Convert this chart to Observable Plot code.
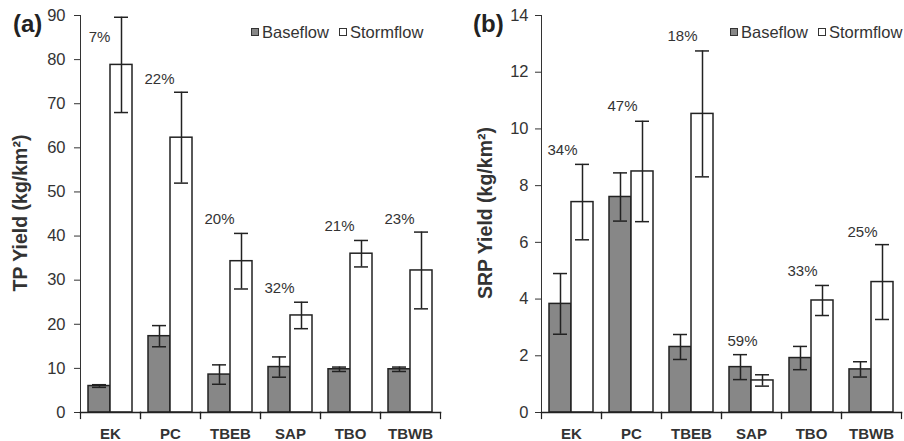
<!DOCTYPE html>
<html>
<head>
<meta charset="utf-8">
<script src="https://cdn.jsdelivr.net/npm/d3@7"></script>
<script src="https://cdn.jsdelivr.net/npm/@observablehq/plot@0.6"></script>
<style>
  body { margin: 0; background: #fff; }
  #wrap { display: flex; width: 904px; height: 441px; font-family: "Liberation Sans", Arial, sans-serif; color: #333; }
  .panel { position: relative; }
  .tag { position: absolute; font-weight: bold; font-size: 24px; line-height: 24px; color: #222; }
  .ylab { position: absolute; font-weight: bold; font-size: 19.5px; line-height: 19.5px; color: #333; white-space: nowrap;
          transform: translate(-50%, -50%) rotate(-90deg); }
  .legend { position: absolute; display: flex; align-items: center; font-size: 16.5px; line-height: 16.5px; color: #333; white-space: nowrap; }
  .sw { width: 6px; height: 6px; border: 1.5px solid #333; margin-right: 3px; }
  .sw2 { margin-left: 10px; }
  svg g[aria-label="fx-axis tick label"] { font-weight: bold; font-size: 15px; }
  svg g[aria-label="y-axis tick label"] { font-size: 16.5px; }
</style>
</head>
<body>
<div id="wrap"></div>
<script>
const sites = ["EK", "PC", "TBEB", "SAP", "TBO", "TBWB"];
const series = ["Baseflow", "Stormflow"];

// (a) TP yield, kg/km²
const tpBaseflow = [6.0, 17.3, 8.6, 10.3, 9.8, 9.8];
const tpBaseflowErr = [0.3, 2.4, 2.2, 2.3, 0.5, 0.5];
const tpStormflow = [78.8, 62.3, 34.3, 22.0, 36.0, 32.2];
const tpStormflowErr = [10.8, 10.3, 6.3, 3.0, 3.0, 8.7];
const tpPercent = ["7%", "22%", "20%", "32%", "21%", "23%"];
const tpPercentY = [85, 75.5, 43.9, 28.2, 42.2, 43.9];
const tpTicks = [0, 10, 20, 30, 40, 50, 60, 70, 80, 90];

// (b) SRP yield, kg/km²
const srpBaseflow = [3.83, 7.6, 2.31, 1.6, 1.92, 1.52];
const srpBaseflowErr = [1.07, 0.85, 0.44, 0.44, 0.41, 0.27];
const srpStormflow = [7.42, 8.5, 10.53, 1.13, 3.95, 4.6];
const srpStormflowErr = [1.33, 1.77, 2.22, 0.2, 0.53, 1.32];
const srpPercent = ["34%", "47%", "18%", "59%", "33%", "25%"];
const srpPercentY = [9.24, 10.8, 13.26, 2.51, 5.0, 6.36];
const srpTicks = [0, 2, 4, 6, 8, 10, 12, 14];

const H = 441, MT = 15, MB = 29;
const INNER = H - MT - MB;
const INK = "#222";

function makePanel(o) {
  const rows = sites.flatMap((s, i) => [
    {site: s, series: "Baseflow", v: o.base[i], e: o.baseErr[i]},
    {site: s, series: "Stormflow", v: o.storm[i], e: o.stormErr[i]}
  ]);
  const pctRows = sites.map((s, i) => ({site: s, series: "Baseflow", y: o.pctY[i], label: o.pct[i]}));
  return Plot.plot({
    width: o.width,
    height: H,
    marginTop: MT,
    marginBottom: MB,
    marginLeft: o.marginLeft,
    marginRight: o.marginRight,
    style: {fontFamily: '"Liberation Sans", Arial, sans-serif', fontSize: "16px", color: "#333", background: "#fff"},
    fx: {domain: sites, padding: 0, axis: "bottom", label: null, tickSize: 0, tickPadding: 16},
    x: {domain: series, paddingInner: 0, paddingOuter: 0.34, axis: null},
    y: {domain: [0, o.ticks[o.ticks.length - 1]], ticks: o.ticks, tickSize: 6, tickPadding: o.tickPadding,
        line: true, label: null},
    color: {domain: series, range: ["#878787", "#ffffff"]},
    marks: [
      Plot.barY(rows, {fx: "site", x: "series", y: "v", fill: "series", stroke: INK, strokeWidth: 1.5}),
      Plot.ruleX(rows, {fx: "site", x: "series", y1: d => d.v - d.e, y2: d => d.v + d.e, stroke: INK, strokeWidth: 1.5}),
      Plot.tickY(rows, {fx: "site", x: "series", y: d => d.v - d.e, insetLeft: 4, insetRight: 4, stroke: INK, strokeWidth: 1.5}),
      Plot.tickY(rows, {fx: "site", x: "series", y: d => d.v + d.e, insetLeft: 4, insetRight: 4, stroke: INK, strokeWidth: 1.5}),
      Plot.text(pctRows, {fx: "site", x: "series", y: "y", text: "label", dx: o.pctDx, fontSize: 15, fill: "#333"}),
      Plot.frame({anchor: "bottom", stroke: INK, strokeWidth: 1.5}),
      Plot.frame({anchor: "left", insetTop: INNER, insetBottom: -6, stroke: INK, strokeWidth: 1.2}),
      Plot.frame({anchor: "right", insetTop: INNER, insetBottom: -6, stroke: INK, strokeWidth: 1.2})
    ]
  });
}

function addPanel(o) {
  const panel = document.createElement("div");
  panel.className = "panel";
  panel.style.width = o.width + "px";
  panel.appendChild(makePanel(o));
  const tag = document.createElement("div");
  tag.className = "tag";
  tag.textContent = o.tag;
  tag.style.left = o.tagLeft + "px";
  tag.style.top = "12px";
  panel.appendChild(tag);
  const yl = document.createElement("div");
  yl.className = "ylab";
  yl.textContent = o.label;
  yl.style.left = o.labelX + "px";
  yl.style.top = "213px";
  panel.appendChild(yl);
  const lg = document.createElement("div");
  lg.className = "legend";
  lg.style.left = o.legendLeft + "px";
  lg.style.top = "24px";
  series.forEach((s, i) => {
    const sw = document.createElement("span");
    sw.className = "sw" + (i ? " sw2" : "");
    sw.style.background = i ? "#ffffff" : "#878787";
    lg.appendChild(sw);
    const t = document.createElement("span");
    t.textContent = s;
    lg.appendChild(t);
  });
  panel.appendChild(lg);
  document.getElementById("wrap").appendChild(panel);
}

addPanel({
  width: 450, marginLeft: 79, marginRight: 9,
  base: tpBaseflow, baseErr: tpBaseflowErr, storm: tpStormflow, stormErr: tpStormflowErr,
  pct: tpPercent, pctY: tpPercentY, pctDx: 0, ticks: tpTicks, tickPadding: 9,
  label: "TP Yield (kg/km²)", labelX: 21,
  tag: "(a)", tagLeft: 13, legendLeft: 251
});
addPanel({
  width: 454, marginLeft: 90, marginRight: 2,
  base: srpBaseflow, baseErr: srpBaseflowErr, storm: srpStormflow, stormErr: srpStormflowErr,
  pct: srpPercent, pctY: srpPercentY, pctDx: 2, ticks: srpTicks, tickPadding: 7,
  label: "SRP Yield (kg/km²)", labelX: 36,
  tag: "(b)", tagLeft: 23, legendLeft: 280
});
</script>
</body>
</html>
